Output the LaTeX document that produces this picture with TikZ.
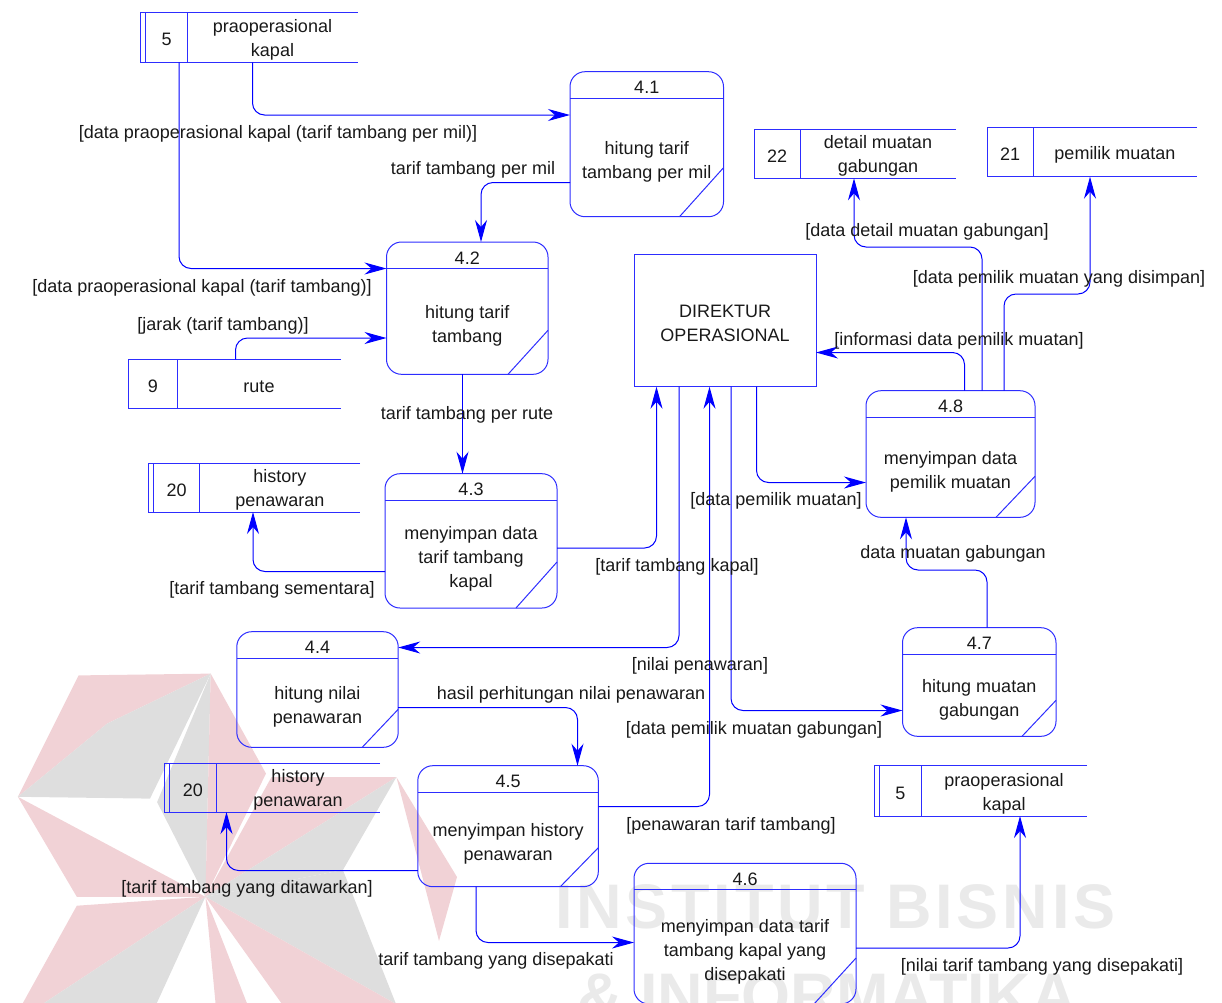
\documentclass[tikz,border=0pt]{standalone}
\usepackage{fontspec}
\setmainfont{Liberation Sans}
\usetikzlibrary{arrows.meta,fit}
\definecolor{dfd}{RGB}{0,0,255}
\definecolor{dfdl}{RGB}{45,45,255}
\definecolor{wmpink}{RGB}{241,210,214}
\definecolor{wmgrey}{RGB}{222,222,222}
\definecolor{wmtext}{RGB}{234,234,234}
\definecolor{txt}{RGB}{25,25,25}
\tikzset{
  shapeline/.style={draw=dfdl, line width=1pt},
  flow/.style={draw=dfd, line width=1pt, rounded corners=12pt, -{Stealth[length=22pt,width=12pt,inset=7pt]}},
  lbl/.style={font=\fontsize{18}{22}\selectfont, inner sep=0pt, text=txt, text height=13pt, text depth=4pt, yshift=-2.5pt},
  ptxt/.style={font=\fontsize{18}{24}\selectfont, align=center, inner sep=0pt, text=txt, yshift=-2.5pt},
  box/.style={inner sep=0pt, outer sep=0pt},
  wmark/.style={font=\fontsize{63}{63}\selectfont\bfseries, text=wmtext, inner sep=0pt, anchor=base west},
}
\newcommand{\procbox}[9]{%
  \draw[shapeline, rounded corners=15pt] (#2,#3) rectangle (#4,#5);
  \node[box, fit={(#2,#3) (#4,#5)}] (#1) {};
  \draw[shapeline] (#2,#3+26.5) -- (#4,#3+26.5);
  \draw[shapeline] (#4,#5-#9) -- (#4-#8,#5);
  \node[ptxt] (#1id) at ({(#2+#4)/2},#3+13.5) {#6};
  \node[ptxt] (#1tx) at ({(#2+#4)/2},{(#3+26.5+#5)/2+2}) {#7};
}
\newcommand{\dstore}[9]{%
  \draw[shapeline] (#4,#3) -- (#2,#3) -- (#2,#5) -- (#4,#5);
  \draw[shapeline] (#6,#3) -- (#6,#5);
  \ifnum#9=1 \draw[shapeline] (#2+5.5,#3) -- (#2+5.5,#5);\fi
  \node[box, fit={(#2,#3) (#4,#5)}] (#1) {};
  \node[ptxt] (#1n) at ({(#2+#6)/2+#9*2.75},{(#3+#5)/2}) {#7};
  \node[ptxt] (#1t) at ({(#6+#4)/2},{(#3+#5)/2}) {#8};
}
\begin{document}
\begin{tikzpicture}[x=1pt,y=-1pt]
\useasboundingbox (0,0) rectangle (1222,1002);
% ---- watermark
\fill[wmpink] (78.6,675.4) -- (210.7,673.6) -- (107.1,723.6) -- (17.9,796.8) -- cycle;
\fill[wmgrey] (17.9,796.8) -- (107.1,723.6) -- (210.7,673.6) -- (150,798.6) -- cycle;
\fill[wmpink] (17.9,796.8) -- (205.4,896.8) -- (76.8,896.8) -- cycle;
\fill[wmgrey] (210.7,673.6) -- (157.1,802.1) -- (205.4,896.8) -- cycle;
\fill[wmpink] (210.7,673.6) -- (266,773.6) -- (205.4,896.8) -- cycle;
\fill[wmpink] (271.4,777.1) -- (396.4,777.1) -- (205.4,896.8) -- cycle;
\fill[wmgrey] (396.4,777.1) -- (342.9,870) -- (205.4,896.8) -- cycle;
\fill[wmpink] (396.4,777.1) -- (457,877) -- (439,941) -- cycle;
\fill[wmpink] (76.8,905.7) -- (205.4,896.8) -- (10.7,1025) -- cycle;
\fill[wmgrey] (10.7,1025) -- (205.4,896.8) -- (150,1018) -- cycle;
\fill[wmpink] (205.4,896.8) -- (218,1029) -- (257,1029) -- cycle;
\fill[wmgrey] (205.4,896.8) -- (342.9,870) -- (396,1004) -- cycle;
\fill[wmpink] (205.4,896.8) -- (282,1004) -- (396,1004) -- cycle;
\node[wmark] (wm1) at (555,928) {\addfontfeature{LetterSpace=6}INSTITUT BISNIS};
\node[wmark] (wm2) at (577,1017) {\& INFORMATIKA};
% ---- data stores
\dstore{s5a}{140.3}{12.3}{357.7}{62.3}{187.3}{5}{praoperasional\\kapal}{1}
\dstore{s9}{128.7}{359.3}{341}{408.7}{177}{9}{rute}{0}
\dstore{s20a}{148}{463}{360}{512}{199.6}{20}{history\\penawaran}{1}
\dstore{s20b}{164.3}{763}{380}{812}{216}{20}{history\\penawaran}{1}
\dstore{s22}{754}{129.3}{956}{178.3}{800}{22}{detail muatan\\gabungan}{0}
\dstore{s21}{987}{127.7}{1197}{176.7}{1033}{21}{pemilik muatan}{0}
\dstore{s5b}{874}{765.7}{1087}{816}{921}{5}{praoperasional\\kapal}{1}
% ---- processes
\procbox{p41}{570}{71.7}{723.5}{216.7}{4.1}{hitung tarif\\tambang per mil}{44}{49}
\procbox{p42}{386.5}{242}{548}{374.3}{4.2}{hitung tarif\\tambang}{40}{44}
\procbox{p43}{385}{473.7}{557}{608}{4.3}{menyimpan data\\tarif tambang\\kapal}{41}{46}
\procbox{p44}{236.8}{631.7}{398.2}{747.3}{4.4}{hitung nilai\\penawaran}{36}{38}
\procbox{p45}{417.8}{765.7}{598.3}{886.7}{4.5}{menyimpan history\\penawaran}{38}{39}
\procbox{p46}{634}{863.3}{856}{1004}{4.6}{menyimpan data tarif\\tambang kapal yang\\disepakati}{42}{46}
\procbox{p47}{902.5}{627.7}{1056}{736.3}{4.7}{hitung muatan\\gabungan}{34}{36}
\procbox{p48}{866}{390.7}{1035}{517.3}{4.8}{menyimpan data\\pemilik muatan}{39}{41}
% ---- external entity
\node[shapeline, box, minimum width=182pt, minimum height=132pt] (dir) at (725,320.7) {};
\node[ptxt] (dirt) at (dir.center) {DIREKTUR\\OPERASIONAL};
% ---- flows
\draw[flow] (s5a.south -| 252.5,0) |- (p41.west |- 0,115);
\draw[flow] (s5a.south -| 179,0) |- (p42.west |- 0,268.5);
\draw[flow] (p41.west |- 0,182.5) -| (p42.north -| 481,0);
\draw[flow] (s9.north -| 235.5,0) |- (p42.west |- 0,338);
\draw[flow] (p42.south -| 462.5,0) -- (p43.north -| 462.5,0);
\draw[flow] (p43.west |- 0,571.5) -| (s20a.south -| 253,0);
\draw[flow] (p43.east |- 0,548) -| (dir.south -| 656.5,0);
\draw[flow] (dir.south -| 679,0) |- (p44.east |- 0,647.5);
\draw[flow] (p45.east |- 0,806.5) -| (dir.south -| 709.5,0);
\draw[flow] (dir.south -| 731,0) |- (p47.west |- 0,710.5);
\draw[flow] (dir.south -| 756.5,0) |- (p48.west |- 0,482.5);
\draw[flow] (p48.north -| 964.5,0) |- (dir.east |- 0,352.5);
\draw[flow] (p48.north -| 982,0) |- (900,247) -| (s22.south -| 854,0);
\draw[flow] (p48.north -| 1004,0) |- (1050,294) -| (s21.south -| 1090,0);
\draw[flow] (p47.north -| 987,0) |- (950,570) -| (p48.south -| 906,0);
\draw[flow] (p44.east |- 0,707.5) -| (p45.north -| 577.5,0);
\draw[flow] (p45.west |- 0,870.5) -| (s20b.south -| 226.5,0);
\draw[flow] (p45.south -| 476,0) |- (p46.west |- 0,942.5);
\draw[flow] (p46.east |- 0,948) -| (s5b.south -| 1020,0);
% ---- labels
\node[lbl] (l1) at (278,131) {[data praoperasional kapal (tarif tambang per mil)]};
\node[lbl] (l2) at (202,285) {[data praoperasional kapal (tarif tambang)]};
\node[lbl] (l3) at (473,167) {tarif tambang per mil};
\node[lbl] (l4) at (223,323) {[jarak (tarif tambang)]};
\node[lbl] (l5) at (467,412) {tarif tambang per rute};
\node[lbl] (l6) at (272,587) {[tarif tambang sementara]};
\node[lbl] (l7) at (677,564) {[tarif tambang kapal]};
\node[lbl] (l8) at (700,663) {[nilai penawaran]};
\node[lbl] (l9) at (731,823) {[penawaran tarif tambang]};
\node[lbl] (l10) at (754,727) {[data pemilik muatan gabungan]};
\node[lbl] (l11) at (776,498) {[data pemilik muatan]};
\node[lbl] (l12) at (959,338) {[informasi data pemilik muatan]};
\node[lbl] (l13) at (927,229) {[data detail muatan gabungan]};
\node[lbl] (l14) at (1059,276) {[data pemilik muatan yang disimpan]};
\node[lbl] (l15) at (953,551) {data muatan gabungan};
\node[lbl] (l16) at (571,692) {hasil perhitungan nilai penawaran};
\node[lbl] (l17) at (247,886) {[tarif tambang yang ditawarkan]};
\node[lbl] (l18) at (496,958) {tarif tambang yang disepakati};
\node[lbl] (l19) at (1042,964) {[nilai tarif tambang yang disepakati]};
\end{tikzpicture}
\end{document}
